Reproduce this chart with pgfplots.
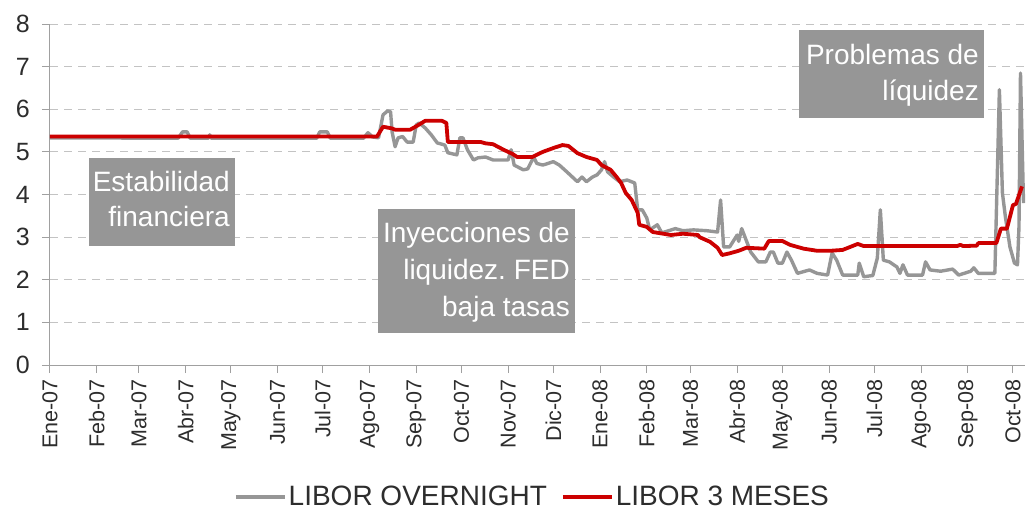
\documentclass[border=0pt]{standalone}
\usepackage{pgfplots}
\pgfplotsset{compat=1.18}
\usepackage{fontspec}
\setmainfont{Liberation Sans}
\frenchspacing
\definecolor{ongray}{RGB}{150,150,150}
\definecolor{libred}{RGB}{204,0,0}
\definecolor{boxgray}{RGB}{150,150,150}
\definecolor{txt}{RGB}{45,45,45}
\definecolor{gridc}{RGB}{195,195,195}
\definecolor{axc}{RGB}{160,160,160}
\begin{document}
\begin{tikzpicture}
\useasboundingbox (-50pt,-146pt) rectangle (980pt,365pt);
\begin{axis}[
  at={(0pt,0pt)}, anchor=south west,
  scale only axis, width=975pt, height=341pt,
  xmin=0, xmax=647, ymin=0, ymax=8,
  axis x line=bottom, axis y line=left,
  axis line style={draw=axc, line width=1pt, -},
  tick align=outside, major tick length=8pt,
  tick style={draw=axc, line width=1pt},
  ytick={0,1,2,3,4,5,6,7,8},
  xtick={0,31,59,90,120,151,181,212,243,273,304,334,365,396,425,456,486,517,547,578,609,639},
  xticklabels={Ene-07,Feb-07,Mar-07,Abr-07,May-07,Jun-07,Jul-07,Ago-07,Sep-07,Oct-07,Nov-07,Dic-07,Ene-08,Feb-08,Mar-08,Abr-08,May-08,Jun-08,Jul-08,Ago-08,Sep-08,Oct-08},
  /pgf/number format/assume math mode=true,
  xticklabel style={rotate=90, anchor=east, font=\fontsize{21.5}{25}\selectfont, text=txt, inner xsep=6pt, inner ysep=2pt},
  yticklabel style={font=\fontsize{25}{29}\selectfont, text=txt, inner sep=2pt, xshift=-10pt},
  ymajorgrids, grid style={draw=gridc, dash pattern=on 8pt off 6pt, line width=1pt},
  legend style={at={(0.495,-0.387)}, anchor=center, draw=none, fill=none,
    font=\fontsize{28}{32}\selectfont, text=txt, legend columns=2,
    /tikz/every even column/.append style={column sep=12pt}},
  legend image code/.code={\draw[#1] (0pt,0pt) -- (49pt,0pt);},
]
\addplot[ongray, line width=3.4pt, line join=round] coordinates {
(0,5.33) (85,5.32) (88,5.47) (91,5.47) (93,5.32) (105,5.32) (106,5.40) (107,5.32)
(177,5.32) (179,5.47) (184,5.47) (186,5.32) (208,5.32) (211,5.45) (214,5.35) (218,5.33)
(221,5.87) (224,5.96) (226,5.94) (227,5.47) (229,5.12) (231,5.33) (234,5.36) (237,5.23)
(241,5.23) (243,5.63) (245,5.68) (249,5.56) (253,5.40) (257,5.21) (262,5.16) (264,4.98)
(270,4.93) (272,5.33) (274,5.33) (277,5.05) (281,4.81) (284,4.86) (289,4.88) (294,4.81)
(304,4.81) (306,5.05) (308,4.69) (314,4.58) (317,4.60) (320,4.81) (321,4.88) (323,4.73)
(327,4.69) (334,4.77) (338,4.69) (343,4.53) (350,4.30) (353,4.41) (356,4.30) (360,4.41)
(363,4.46) (366,4.58) (368,4.77) (370,4.53) (374,4.41) (378,4.30) (383,4.34) (388,4.27)
(390,3.64) (393,3.64) (396,3.45) (398,3.17) (403,3.29) (406,3.10) (415,3.20) (420,3.15)
(427,3.17) (436,3.15) (443,3.12) (445,3.87) (447,2.77) (451,2.77) (456,3.05) (457,2.90)
(459,3.20) (465,2.65) (470,2.42) (475,2.42) (478,2.65) (480,2.65) (483,2.39) (486,2.39)
(489,2.65) (492,2.46) (496,2.15) (504,2.23) (509,2.15) (516,2.11) (519,2.63) (522,2.46)
(526,2.11) (536,2.11) (537,2.39) (540,2.07) (546,2.10) (549,2.51) (551,3.64) (553,2.46)
(557,2.42) (562,2.30) (564,2.15) (566,2.35) (569,2.11) (579,2.11) (581,2.42) (584,2.23)
(591,2.20) (599,2.25) (603,2.11) (611,2.20) (613,2.28) (616,2.15) (627,2.15) (630,6.46)
(632,4.04) (634,3.47) (637,2.77) (640,2.39) (642,2.35) (643,3.24) (644,6.85) (646,3.80)
};
\addlegendentry{LIBOR OVERNIGHT}
\addplot[libred, line width=3.8pt, line join=round] coordinates {
(0,5.36) (217,5.36) (221,5.59) (227,5.55) (229,5.52) (239,5.52) (244,5.62) (249,5.73)
(260,5.73) (263,5.68) (264,5.23) (286,5.23) (289,5.20) (294,5.18) (301,5.05) (307,4.95)
(310,4.88) (320,4.88) (327,5.00) (334,5.09) (340,5.16) (344,5.14) (350,4.97) (356,4.88)
(363,4.81) (366,4.69) (372,4.58) (376,4.41) (379,4.27) (382,4.04) (386,3.87) (390,3.57)
(391,3.29) (396,3.24) (400,3.12) (412,3.05) (420,3.08) (430,3.05) (431,3.00) (438,2.89)
(443,2.75) (446,2.58) (451,2.62) (457,2.68) (462,2.75) (474,2.73) (477,2.91) (486,2.91)
(491,2.82) (500,2.73) (509,2.68) (518,2.68) (526,2.70) (531,2.77) (536,2.84) (540,2.79)
(602,2.79) (604,2.82) (606,2.79) (615,2.80) (616,2.86) (628,2.86) (631,3.20) (635,3.20)
(639,3.75) (641,3.78) (645,4.19)
};
\addlegendentry{LIBOR 3 MESES}
\end{axis}
\fill[boxgray] (39pt,119pt) rectangle (185pt,207pt);
\node[anchor=north east, inner sep=0pt, align=right, text=white, font=\fontsize{28}{35}\selectfont] at (180pt,194pt) {Estabilidad\\financiera};
\fill[boxgray] (328pt,32pt) rectangle (525pt,156pt);
\node[anchor=north east, inner sep=0pt, align=right, text=white, font=\fontsize{28}{37}\selectfont] at (520pt,143pt) {Inyecciones de\\liquidez. FED\\baja tasas};
\fill[boxgray] (749pt,247pt) rectangle (934pt,335pt);
\node[anchor=north east, inner sep=0pt, align=right, text=white, font=\fontsize{28}{36}\selectfont] at (929pt,321pt) {Problemas de\\líquidez};
\end{tikzpicture}
\end{document}
